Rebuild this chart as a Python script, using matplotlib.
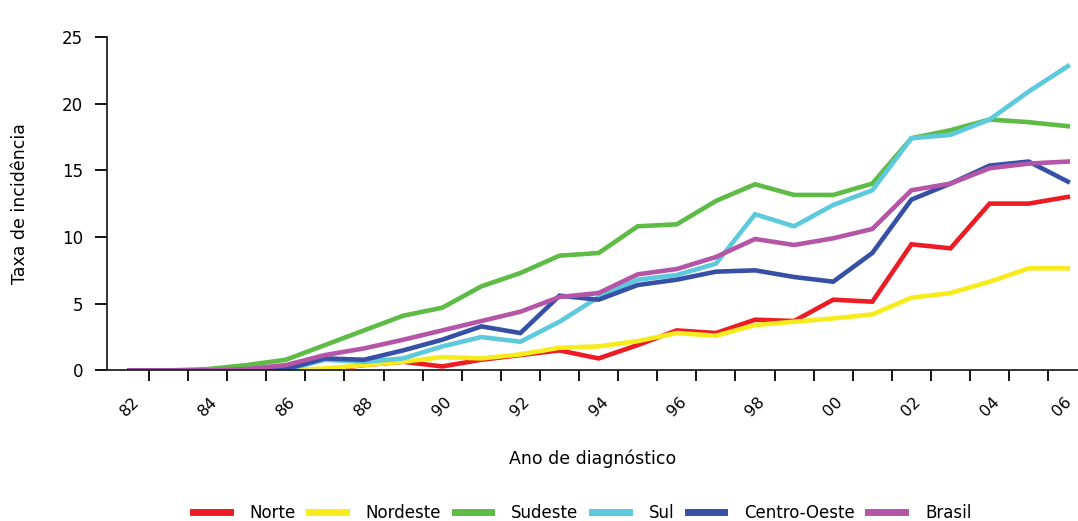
import numpy as np
import matplotlib
matplotlib.use("Agg")
import matplotlib.pyplot as plt
import matplotlib.transforms as mtransforms
from matplotlib.lines import Line2D

plt.rcParams['font.family'] = ['DejaVu Sans']

# anos de diagnostico 1982-2006
anos = ['82', '83', '84', '85', '86', '87', '88', '89', '90', '91', '92', '93', '94',
        '95', '96', '97', '98', '99', '00', '01', '02', '03', '04', '05', '06']

norte = [0, 0, 0, 0, 0, 0.05, 0.4, 0.65, 0.3, 0.8, 1.15, 1.5, 0.9,
         1.9, 3.0, 2.8, 3.8, 3.7, 5.3, 5.15, 9.45, 9.15, 12.5, 12.5, 13.0]
nordeste = [0, 0, 0, 0, 0, 0.15, 0.4, 0.65, 1.0, 0.9, 1.2, 1.7, 1.8,
            2.2, 2.8, 2.6, 3.4, 3.65, 3.9, 4.2, 5.45, 5.8, 6.65, 7.65, 7.65]
sudeste = [0, 0, 0.1, 0.4, 0.8, 1.9, 3.0, 4.1, 4.7, 6.3, 7.3, 8.6, 8.8,
           10.8, 10.95, 12.7, 13.95, 13.15, 13.15, 14.0, 17.4, 18.0, 18.8, 18.6, 18.3]
sul = [0, 0, 0, 0, 0.05, 0.8, 0.65, 0.9, 1.8, 2.5, 2.15, 3.65, 5.5,
       6.8, 7.15, 8.0, 11.7, 10.8, 12.4, 13.5, 17.4, 17.65, 18.8, 20.9, 22.8]
centro_oeste = [0, 0, 0, 0, 0.1, 0.9, 0.8, 1.5, 2.3, 3.3, 2.8, 5.6, 5.3,
                6.4, 6.8, 7.4, 7.5, 7.0, 6.65, 8.8, 12.8, 14.0, 15.35, 15.65, 14.15]
brasil = [0, 0, 0, 0.1, 0.4, 1.15, 1.65, 2.3, 3.0, 3.7, 4.4, 5.5, 5.8,
          7.2, 7.6, 8.5, 9.85, 9.4, 9.9, 10.6, 13.5, 14.0, 15.15, 15.5, 15.65]

series = [('Norte', norte, '#ed1c24'),
          ('Nordeste', nordeste, '#f7eb1b'),
          ('Sudeste', sudeste, '#5dbb46'),
          ('Sul', sul, '#5cc9dd'),
          ('Centro-Oeste', centro_oeste, '#3650a6'),
          ('Brasil', brasil, '#b455a8')]

fig = plt.figure(figsize=(10.78, 5.21), dpi=100)
ax = fig.add_axes([0.099, 0.289, 0.901, 0.6404])

x = np.arange(len(anos))
for nome, vals, cor in series:
    ax.plot(x, vals, color=cor, lw=3.3, solid_joinstyle='miter', label=nome)

ax.set_xlim(-0.58, 24.26)
ax.set_ylim(0, 25)
ax.spines['top'].set_visible(False)
ax.spines['right'].set_visible(False)
for s in ['left', 'bottom']:
    ax.spines[s].set_linewidth(1.3)
    ax.spines[s].set_color('#222222')

ax.set_yticks([0, 5, 10, 15, 20, 25])
ax.tick_params(axis='y', length=9, width=1.3, labelsize=12, pad=8)

ax.set_xticks(x[::2])
ax.set_xticklabels(anos[::2], rotation=45, ha='center', va='center')
ax.tick_params(axis='x', which='major', length=0, labelsize=11.5, pad=26)
ax.set_xticks(x[:-1] + 0.5, minor=True)
ax.tick_params(axis='x', which='minor', length=8, width=1.3)

# nudge the last label ("06") so it stays inside the figure
ultimo = ax.get_xticklabels()[-1]
ultimo.set_transform(ultimo.get_transform() +
                     mtransforms.ScaledTranslation(-4 / 72, 0, fig.dpi_scale_trans))

ax.set_xlabel('Ano de diagnóstico', fontsize=12.5, labelpad=22)
ax.set_ylabel('Taxa de incidência', fontsize=12.5, labelpad=24)

handles = [Line2D([0], [0], color=c, lw=5) for _, _, c in series]
fig.legend(handles, [n for n, _, _ in series], loc='lower center',
           bbox_to_anchor=(0.54, -0.03), ncol=6, frameon=False, fontsize=12,
           handlelength=2.2, columnspacing=0.8, handletextpad=1.2)

fig.savefig('out.png', dpi=100)
